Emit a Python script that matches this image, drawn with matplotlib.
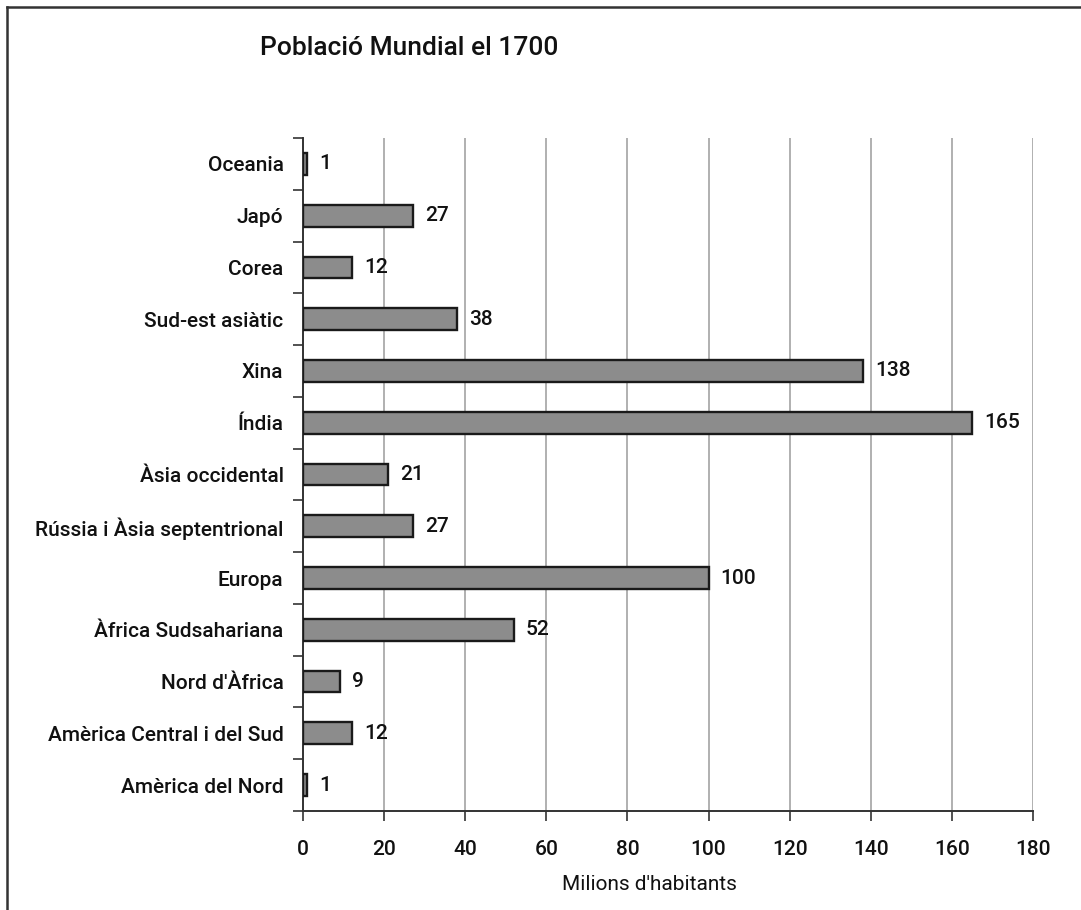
import matplotlib
matplotlib.use("Agg")
import matplotlib.pyplot as plt
from matplotlib.ticker import FixedLocator

plt.rcParams['font.family'] = ['Roboto', 'DejaVu Sans']
plt.rcParams['font.weight'] = 'medium'

categories = ["Amèrica del Nord", "Amèrica Central i del Sud", "Nord d'Àfrica",
              "Àfrica Sudsahariana", "Europa", "Rússia i Àsia septentrional",
              "Àsia occidental", "Índia", "Xina", "Sud-est asiàtic", "Corea",
              "Japó", "Oceania"]
values = [1, 12, 9, 52, 100, 27, 21, 165, 138, 38, 12, 27, 1]
xticks = [0, 20, 40, 60, 80, 100, 120, 140, 160, 180]
title = "Població Mundial el 1700"
xlabel = "Milions d'habitants"

FS = 15
fig = plt.figure(figsize=(10.81, 9.10), dpi=100)
ax = fig.add_axes([303/1081, 1-811/910, 730/1081, (811-138)/910])

y = list(range(len(categories)))
ax.barh(y, values, height=0.42, color='#8c8c8c', edgecolor='#1a1a1a', linewidth=1.7, zorder=3)
for yi, v in zip(y, values):
    ax.text(v + 3, yi, str(v), va='center', ha='left', fontsize=FS, color='#111111')

ax.set_xlim(0, 180)
ax.set_ylim(-0.5, len(categories) - 0.5)
ax.set_xticks(xticks)
ax.set_yticks(y)
ax.set_yticklabels(categories, fontsize=FS, color='#111111')
ax.yaxis.set_minor_locator(FixedLocator([i - 0.5 for i in range(len(categories) + 1)]))
ax.tick_params(axis='y', which='major', length=0, pad=14)
ax.tick_params(axis='y', which='minor', length=7, width=1.2, color='#333333', direction='out')
ax.tick_params(axis='x', which='major', length=7, width=1.2, color='#333333', direction='out',
               labelsize=FS, labelcolor='#111111', pad=14)
ax.grid(axis='x', color='#aaaaaa', linewidth=1.3, zorder=0)
for s in ['top', 'right']:
    ax.spines[s].set_visible(False)
for s in ['left', 'bottom']:
    ax.spines[s].set_color('#333333')
    ax.spines[s].set_linewidth(1.4)
ax.set_xlabel(xlabel, fontsize=FS, color='#111111')
ax.xaxis.set_label_coords((649-303)/730, -0.095)

fig.text(260/1081, 1-48/910, title, fontsize=19, va='center', ha='left', color='#111111')

# frame lines of the original figure
fig.add_artist(plt.Line2D([7/1081, 7/1081], [0, 1-7/910], transform=fig.transFigure, color='#333333', lw=1.8))
fig.add_artist(plt.Line2D([7/1081, 1], [1-7/910, 1-7/910], transform=fig.transFigure, color='#333333', lw=1.8))

fig.savefig("out.png", dpi=100)
